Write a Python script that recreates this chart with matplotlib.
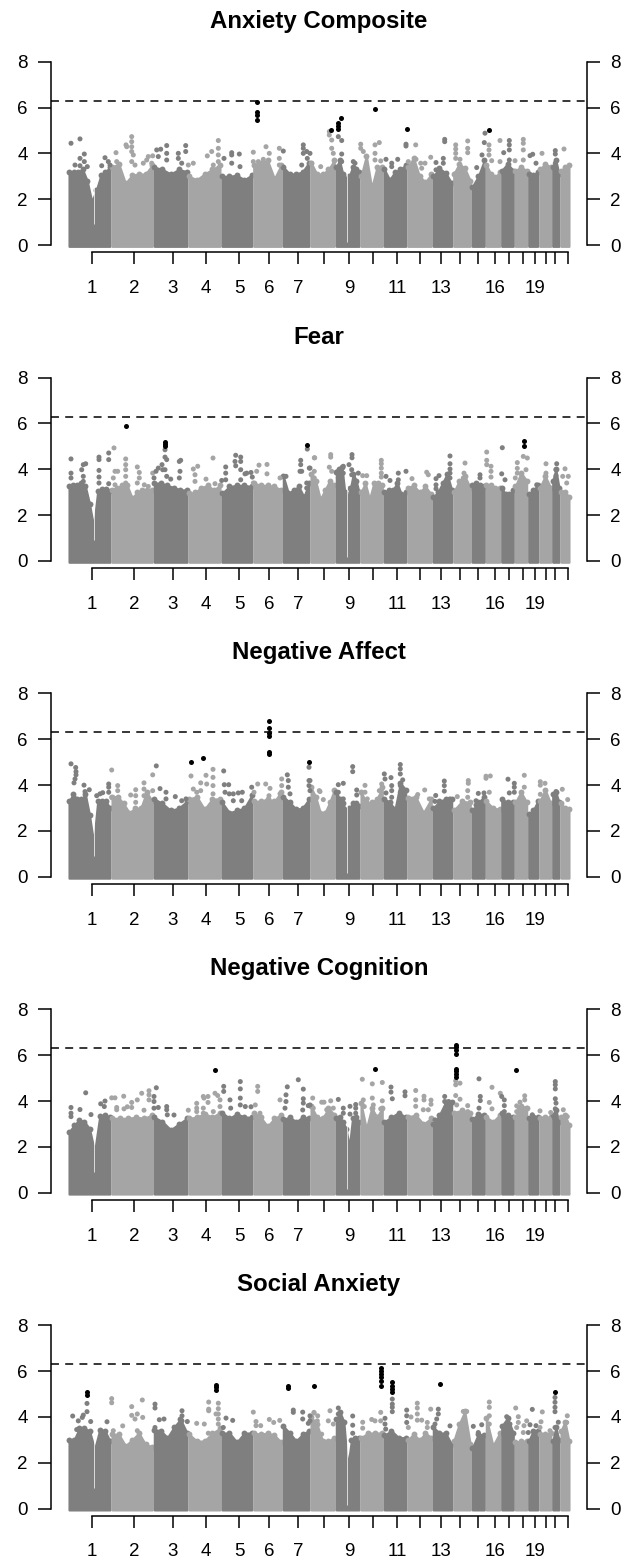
import matplotlib
matplotlib.use("Agg")
import matplotlib.pyplot as plt
import numpy as np

plt.rcParams['font.family'] = ['Liberation Sans', 'DejaVu Sans']

DARK = '#7f7f7f'
LIGHT = '#a5a5a5'

# genome position of chromosome edges and axis ticks
chrom_edges = [68, 111, 153.3, 188, 221, 252.7, 282.3, 310, 335.3, 360, 383.3, 406.7, 432.3, 452.7, 471.3, 485.3,
               500.7, 514.3, 527.7, 538.7, 551.7, 560, 570]
tick_pos = [92, 134, 172.6, 206, 239, 269, 298, 324, 349, 373, 397, 420, 441, 460, 478, 495, 509, 523, 535, 546, 555, 568]
tick_text = ['1', '2', '3', '4', '5', '6', '7', '', '9', '', '11', '', '13', '', '', '16', '', '', '19', '', '', '']
y_ticks = [0, 2, 4, 6, 8]
threshold = 6.3
gap_pos = [93.6, 347]
gap_low = [0.9, 0.15]

# Anxiety Composite
anx_tops = [[3.2, 3.2, 3.2, 3.3, 2.8, 1.9, 2.4, 3.05, 3.2, 3.4], [3.4, 3.55, 2.7, 3.05, 3.1, 3.1, 3.5],
            [3.4, 3.3, 3.1, 3.3, 3.2], [3.0, 2.85, 3.1, 3.3, 3.5], [3.0, 3.0, 3.05, 2.85, 3.05],
            [3.5, 3.6, 3.7, 2.9, 3.5], [3.4, 3.1, 3.1, 3.2, 3.6], [3.6, 3.1, 3.1, 3.3, 3.7],
            [3.4, 3.7, 3.1, 2.9, 3.0, 3.4, 3.3, 3.2], [3.0, 3.9, 2.5, 3.4, 3.4], [3.3, 2.85, 3.2, 3.3, 3.5],
            [3.4, 3.8, 3.0, 2.75, 3.1], [3.0, 3.35, 3.15, 2.7], [3.1, 3.55, 3.35, 2.8], [2.55, 3.0, 3.7],
            [3.5, 3.1, 2.95, 3.2], [3.25, 3.55, 3.25], [3.25, 3.4, 3.25], [3.1, 3.05, 3.2], [3.3, 3.55, 3.4],
            [3.4, 3.7, 3.1], [3.25, 3.4, 3.5]]
anx_x = [71, 80, 75, 80, 80, 84.3, 84.3, 87.3, 105, 101.7, 108.3, 110, 116, 116.7, 126, 126.7, 131.7, 131.7, 131.7, 131.7,
         133.3, 131.7, 135, 143.3, 148.3, 152.7, 146.7, 151.7, 156.7, 160.7, 158.3, 166.7, 166.7, 166.7, 178.3, 185.7,
         185.7, 178.3, 181.7, 193.3, 188.3, 207.3, 211.7, 218.3, 218.3, 218.3, 218.3, 213.3, 224, 231.7, 231.7, 239.3,
         231.7, 240, 253.3, 266, 269.3, 263.3, 258.3, 253.3, 279.3, 283.3, 279.3, 279.3, 303.3, 303.3, 303.3, 306.7,
         307.3, 301.7, 311.7, 310, 320.7, 329.3, 329.3, 331.7, 331.7, 333.3, 338.3, 341.7, 341.7, 341.7, 353.3, 355,
         360.7, 360.7, 363.3, 375, 379.3, 375, 375, 380.7, 386, 391.7, 391.7, 397.7, 406, 406, 415.7, 408.3, 416, 420.7,
         425, 421.7, 430.7, 436, 436, 444.7, 444.7, 443.3, 443.3, 455.7, 455.7, 455.7, 455.7, 460, 467.7, 467.7, 467.7,
         455, 482, 485, 484.3, 476.7, 489, 489, 489, 491.7, 500, 500, 503.7, 509.3, 509.3, 509.3, 509.3, 515, 523.3,
         523.3, 523.3, 523.3, 530, 532.7, 536, 542, 555.3, 555.3, 555.3, 564]
anx_y = [4.44, 4.63, 3.49, 3.78, 3.46, 3.97, 3.64, 3.42, 3.81, 3.46, 3.64, 3.49, 4.03, 3.64, 4.37, 4.29, 4.73, 4.51, 4.29,
         4.08, 3.93, 3.64, 3.49, 3.57, 3.86, 3.89, 3.71, 3.57, 4.15, 4.18, 3.86, 4.34, 4.0, 3.71, 4.0, 4.34, 4.08, 3.78,
         3.57, 3.57, 3.49, 3.89, 4.08, 4.56, 4.22, 3.93, 3.64, 3.49, 3.78, 4.03, 3.93, 3.97, 3.57, 3.42, 4.05, 4.29, 4.0,
         3.74, 3.64, 3.64, 4.22, 4.1, 3.78, 3.49, 4.37, 4.22, 4.0, 4.08, 3.78, 3.49, 3.57, 4.0, 3.42, 4.95, 4.8, 4.58,
         4.22, 4.0, 4.73, 4.56, 3.97, 3.64, 3.64, 3.57, 4.4, 4.22, 4.08, 4.37, 4.47, 4.0, 3.71, 3.67, 3.74, 3.57, 3.42,
         3.74, 4.4, 4.32, 4.37, 3.64, 3.74, 3.57, 3.57, 3.35, 3.83, 3.6, 3.28, 4.61, 4.51, 3.78, 3.57, 4.37, 4.19, 4.0,
         3.78, 3.74, 4.54, 4.22, 4.03, 3.1, 3.93, 4.88, 4.47, 3.38, 4.37, 4.15, 3.93, 3.68, 4.56, 3.64, 4.03, 4.56, 4.37,
         4.15, 3.71, 3.68, 4.61, 4.44, 4.15, 3.71, 3.9, 3.96, 3.57, 4.0, 4.12, 3.97, 3.57, 4.19]
anx_hit_x = [257.3, 257.3, 257.3, 257.3, 331.3, 338.3, 338.3, 338.3, 341.3, 375, 407.3, 489.3]
anx_hit_y = [6.26, 5.82, 5.68, 5.46, 5.02, 5.34, 5.2, 5.07, 5.53, 5.92, 5.07, 5.02]

# Fear
fear_tops = [[3.25, 3.3, 3.3, 3.4, 3.25, 2.5, 1.5, 3.05, 3.15, 3.15, 3.05], [3.1, 3.2, 3.3, 3.3, 2.75, 3.0, 3.1, 3.1, 3.1],
             [3.4, 3.4, 3.3, 3.2, 3.1, 3.1], [2.95, 3.0, 3.2, 3.3, 3.1, 3.3], [2.95, 3.25, 3.3, 3.3, 3.25],
             [3.4, 3.3, 3.3, 3.25, 3.1], [3.7, 2.95, 3.1, 3.25, 2.8, 3.4], [3.8, 3.5, 2.7, 3.1, 3.5, 3.3],
             [3.9, 4.0, 4.1, 3.0, 2.8, 3.2, 3.8, 3.5, 3.0], [3.0, 3.4, 2.7, 3.4, 3.4, 3.3], [3.0, 3.1, 3.1, 3.4, 2.9, 3.0],
             [3.2, 3.3, 3.0, 3.25, 2.9], [2.8, 3.0, 3.4, 3.8, 3.1], [3.0, 3.5, 3.7, 3.2], [3.3, 3.4, 3.3, 3.25],
             [3.3, 3.3, 3.2, 3.2], [3.2, 2.9, 2.9, 3.1], [3.25, 3.85, 3.5], [2.9, 3.1, 3.3], [3.2, 3.7, 3.2],
             [3.5, 4.0, 3.2], [3.0, 3.0, 2.8]]
fear_x = [71, 71, 71, 83.3, 85.7, 81.7, 83.3, 83.3, 99, 99, 99, 99, 99, 108.7, 108.7, 108.7, 114, 115, 117.7, 113.3, 115,
          125.7, 125.7, 125.7, 125.7, 125.7, 137.3, 139.3, 139.3, 137.3, 144.3, 148.3, 152.7, 156, 158.3, 162, 154, 165,
          165, 166.7, 165, 166.7, 162.7, 180.7, 179.3, 180, 179.3, 170.7, 193.3, 197.7, 195, 195, 206, 213, 215, 221.7,
          225.7, 225.7, 225.7, 235.7, 240.7, 240.7, 235, 235.7, 240.7, 246.7, 251, 245, 240.7, 252.3, 256.7, 259, 267, 267,
          253.3, 280, 286, 300.7, 300.7, 300, 301.7, 307.3, 309.3, 306.7, 306.7, 314.3, 314.3, 314.3, 314.7, 310, 330.7,
          330.7, 329.3, 331.7, 338.3, 338.3, 343.3, 343.3, 352, 352, 349, 351.7, 351.7, 358.3, 362.7, 366.7, 355, 381.3,
          381.3, 381.3, 381.3, 381.3, 386, 390, 398.3, 406, 398.3, 412, 426.7, 428.3, 436, 439, 436, 436, 450, 450, 450,
          450, 450, 465, 464, 463.3, 486.7, 486.7, 486.7, 480, 480, 491, 491, 491, 502.3, 501.7, 505, 517.3, 517.3, 517.3,
          515.3, 523.3, 527.3, 526, 546, 546, 556.7, 556, 556, 565, 562.7, 568.3, 566.7, 536.7]
fear_y = [4.45, 3.83, 3.62, 4.2, 4.24, 3.98, 3.69, 3.47, 4.53, 4.42, 3.95, 3.66, 3.4, 4.71, 4.42, 3.37, 4.93, 3.91, 3.91,
          3.62, 3.32, 4.45, 4.2, 3.98, 3.69, 3.4, 4.1, 3.86, 3.62, 3.4, 3.32, 3.25, 3.83, 3.91, 4.05, 4.2, 3.62, 4.85, 4.53,
          4.42, 3.98, 3.69, 3.98, 4.39, 4.34, 3.91, 3.62, 3.57, 4.01, 4.13, 3.76, 3.47, 3.57, 4.49, 3.37, 3.51, 4.1, 3.83,
          3.54, 4.61, 4.53, 4.34, 4.34, 4.15, 3.98, 3.83, 3.86, 3.8, 3.54, 3.66, 3.91, 4.18, 4.21, 3.8, 3.4, 3.62, 3.69,
          4.39, 4.2, 3.91, 3.91, 4.88, 4.05, 3.4, 3.18, 4.5, 3.91, 3.62, 4.5, 4.05, 4.64, 4.53, 4.09, 3.91, 3.91, 3.62, 4.13,
          3.83, 4.64, 4.5, 4.2, 3.98, 3.76, 3.83, 3.72, 3.72, 3.4, 4.39, 4.24, 4.05, 3.83, 3.66, 3.69, 3.51, 3.83, 3.91,
          3.54, 3.59, 3.87, 3.76, 3.59, 3.72, 3.32, 3.15, 4.58, 4.24, 4.01, 3.83, 3.62, 4.27, 3.83, 3.62, 4.75, 4.39, 4.2,
          3.76, 3.62, 4.13, 3.91, 3.66, 4.94, 3.8, 3.54, 4.29, 4.04, 3.83, 3.62, 4.56, 4.49, 3.98, 4.24, 3.83, 4.24, 3.98,
          3.72, 4.02, 3.69, 3.69, 3.4, 3.32]
fear_hit_x = [125.7, 165, 165, 165, 307.3, 523.7, 523.7]
fear_hit_y = [5.87, 5.18, 5.1, 5.01, 5.04, 5.25, 5.03]

# Negative Affect
aff_tops = [[3.3, 3.6, 3.4, 3.4, 3.6, 2.7, 1.5, 3.3, 3.3, 3.3, 3.0], [3.5, 3.5, 3.2, 2.8, 3.0, 3.0, 3.7, 3.3],
            [3.4, 3.2, 2.9, 3.0, 3.3], [3.4, 3.5, 2.95, 3.4, 3.4], [3.25, 2.8, 2.9, 3.0, 3.55], [3.3, 3.3, 3.4, 3.3, 3.7],
            [3.5, 3.25, 2.95, 3.0, 3.4], [3.9, 3.5, 2.8, 2.8, 3.25, 3.8], [3.7, 3.4, 3.2, 2.9, 3.0, 3.2, 3.2, 3.1],
            [3.7, 3.25, 3.25, 3.4, 3.9], [3.4, 3.25, 2.95, 4.1, 3.8], [3.45, 3.5, 2.8, 3.4], [3.0, 3.3, 3.4, 3.4],
            [2.9, 3.3, 3.25], [2.9, 3.25, 3.5], [3.3, 3.0, 2.95], [3.4, 3.25, 3.25], [3.25, 3.7, 3.25], [2.75, 2.9, 3.3],
            [3.3, 3.8, 3.2], [3.6, 3.7, 3.25], [3.2, 3.0, 2.95]]
aff_x = [71, 75.7, 76, 76, 75, 74, 84, 89.3, 85, 96.7, 100, 102.7, 108.7, 108.7, 108.7, 111.7, 101.7, 111.7, 117.7, 117.7,
         130.7, 135.7, 135.7, 135.7, 144, 144, 144, 152.7, 156.3, 152.7, 160, 166, 166, 175.3, 181.7, 186, 191, 193.3, 196.7,
         206, 206.7, 200.7, 200.7, 213, 213, 213, 213, 223.7, 224.3, 228.7, 225, 229.3, 233.3, 238.3, 242.3, 233.3, 241.7,
         251.7, 254, 257.7, 265.7, 270, 269, 269, 281.7, 281.7, 287.3, 288.3, 288.3, 290, 280, 309, 309, 309, 310, 319.3,
         310, 320, 323.3, 338.3, 343.3, 338.3, 343.3, 352.7, 352.7, 356.7, 356.7, 350.7, 365, 365, 367.3, 379.3, 381.7,
         384.3, 385, 391, 391.7, 391.7, 386, 391.7, 400.3, 400.3, 400.3, 402.7, 400.3, 400.3, 417.7, 424.7, 429.3, 435.7,
         435, 444.3, 444.3, 444.3, 450, 457.3, 468.3, 468.3, 467.7, 467.7, 476, 476, 478.3, 484, 486, 486, 490.3, 489.3,
         508, 509.3, 514.3, 514.3, 514.3, 524.3, 524.3, 520, 540.3, 540.3, 540.3, 545, 556, 562.3, 567.7]
aff_y = [4.93, 4.77, 4.59, 4.45, 4.27, 4.1, 4.0, 3.8, 3.72, 3.54, 3.62, 3.67, 4.05, 3.91, 3.69, 4.66, 3.25, 3.47, 3.98, 3.76,
         3.57, 3.8, 3.54, 3.25, 4.1, 3.83, 3.54, 4.45, 4.84, 3.76, 3.85, 3.69, 3.4, 3.5, 3.32, 3.4, 4.4, 3.83, 3.69, 4.43,
         4.05, 4.1, 3.76, 4.69, 4.34, 3.98, 3.62, 4.62, 4.02, 4.02, 3.69, 3.62, 3.62, 3.66, 3.69, 3.32, 3.32, 3.91, 3.69,
         4.05, 4.05, 3.86, 3.54, 3.25, 4.27, 3.98, 4.45, 4.2, 3.91, 3.62, 3.62, 4.78, 4.2, 3.98, 3.76, 3.76, 4.2, 3.72, 3.37,
         4.02, 4.08, 3.69, 3.4, 4.81, 4.59, 3.79, 3.57, 2.96, 3.99, 3.69, 3.4, 3.76, 4.05, 4.49, 4.27, 4.33, 3.98, 3.76, 3.66,
         3.47, 4.9, 4.71, 4.49, 4.23, 3.98, 3.69, 3.59, 3.79, 3.4, 3.55, 3.29, 4.18, 3.98, 3.74, 3.4, 3.5, 4.2, 4.08, 3.76,
         3.47, 3.32, 3.13, 3.64, 3.66, 4.39, 4.3, 4.4, 3.69, 4.26, 3.66, 4.08, 3.91, 3.69, 4.43, 3.91, 3.4, 4.15, 4.0, 3.6,
         4.08, 3.72, 3.82, 3.37]
aff_hit_x = [191, 203.3, 269, 269, 269, 269, 269, 269, 309]
aff_hit_y = [5.01, 5.2, 6.78, 6.49, 6.28, 6.14, 5.45, 5.38, 5.03]

# Negative Cognition
cog_tops = [[2.65, 2.95, 3.18, 3.1, 2.8, 1.8, 3.35, 3.4, 3.3], [3.25, 3.25, 3.25, 3.3, 3.25, 3.4], [3.3, 3.1, 2.75, 3.0, 3.25],
            [3.25, 3.3, 3.45, 3.3, 3.5], [3.5, 3.25, 3.45, 3.3, 3.3], [3.5, 3.3, 2.9, 3.25, 3.4], [3.2, 3.3, 3.1, 3.3, 3.25],
            [3.8, 3.3, 3.25, 3.7, 3.4], [3.25, 3.3, 3.1, 2.8, 2.0, 3.25, 3.3, 3.1], [3.9, 2.8, 3.7, 3.3, 3.7],
            [3.1, 3.3, 3.5, 3.3], [3.3, 3.4, 3.0, 3.25], [3.0, 3.4, 3.95, 3.95], [3.5, 3.6, 3.5], [3.2, 3.45, 3.4],
            [3.3, 3.1, 3.4], [3.5, 3.4, 3.3], [3.3, 3.8, 3.7], [3.25, 3.3, 3.3], [3.25, 3.3, 3.3], [3.4, 3.6, 3.1],
            [3.3, 3.4, 2.95]]
cog_x = [71, 71, 71, 80, 85.7, 91, 100.7, 105, 104.3, 111.7, 115, 123.7, 116.7, 116.7, 124, 127.3, 131.7, 131.7, 137.3, 141.7,
         144, 149, 149, 149, 154, 154, 154, 156.3, 158.3, 166.7, 167.3, 174, 166.7, 188.3, 196.7, 196.7, 196.7, 203.3, 204,
         203.3, 203.3, 208, 208, 215, 217.7, 213.3, 220, 220, 223.7, 223.7, 230, 230.7, 240.3, 240.3, 240.3, 240.3, 245.3,
         251, 257.7, 257.7, 255.3, 260, 287.3, 286, 286, 280, 285, 298.3, 303.3, 303.3, 303.3, 308.3, 302.7, 312.7, 313.3,
         310, 321.7, 324, 326.7, 330.7, 333.3, 338.3, 343.3, 343.3, 350, 355.7, 355.7, 355.7, 350, 362.3, 372.3, 382.3,
         372.3, 363.3, 364.3, 382.3, 373.3, 380.7, 391, 391, 392.3, 405, 405, 415.7, 415.7, 415.7, 424, 424, 431, 431, 423.3,
         428.3, 435, 444.7, 444.7, 448.7, 455.7, 455.7, 455.7, 460, 460, 456.7, 467.7, 467.7, 479, 480.3, 480.3, 479, 492,
         489.3, 492, 500.3, 501.7, 504.3, 504.3, 504.3, 520, 516.7, 519.3, 516.7, 524.7, 524.7, 526.7, 533.3, 540, 532.3,
         550.7, 555.3, 555.3, 555.3, 555.3, 556, 555.3, 563.3, 567.3]
cog_y = [3.72, 3.47, 3.32, 3.63, 4.36, 3.41, 3.88, 4.0, 3.76, 4.14, 4.14, 4.21, 3.72, 3.62, 3.66, 3.75, 3.94, 3.72, 4.05, 4.34,
         3.6, 4.45, 4.27, 4.05, 4.2, 3.98, 3.69, 4.58, 3.72, 3.76, 3.4, 3.39, 3.62, 3.6, 3.9, 3.69, 3.54, 4.2, 4.13, 3.69, 3.47,
         3.94, 4.2, 4.34, 4.24, 3.54, 4.05, 3.76, 4.64, 4.42, 4.05, 3.69, 4.85, 4.53, 4.13, 3.83, 3.76, 3.75, 4.64, 4.42, 3.83,
         3.47, 4.62, 4.27, 3.98, 4.05, 3.69, 4.93, 4.52, 4.1, 3.91, 3.8, 3.61, 4.13, 3.69, 3.83, 3.95, 3.95, 3.62, 4.01, 3.69,
         4.07, 3.69, 3.47, 3.77, 3.85, 3.69, 3.47, 3.43, 4.95, 4.75, 4.81, 4.13, 4.05, 3.76, 4.01, 3.83, 3.66, 4.61, 4.39, 4.1,
         4.4, 4.23, 4.46, 4.05, 3.77, 4.21, 4.05, 4.04, 3.86, 3.62, 3.62, 3.18, 4.2, 3.98, 3.98, 4.88, 4.71, 4.24, 4.08, 4.78,
         3.83, 3.8, 3.54, 4.97, 4.2, 4.02, 3.69, 4.6, 3.94, 3.66, 4.34, 4.2, 4.05, 3.8, 3.54, 3.95, 3.79, 3.69, 3.54, 4.23, 4.05,
         3.69, 3.32, 3.57, 3.4, 3.5, 4.85, 4.71, 4.53, 4.1, 3.91, 3.66, 3.62, 3.32]
cog_hit_x = [214.7, 455.7, 455.7, 455.7, 455.7, 375, 455.7, 455.7, 455.7, 455.7, 516.3]
cog_hit_y = [5.35, 6.46, 6.34, 6.24, 6.06, 5.41, 5.39, 5.29, 5.19, 5.07, 5.35]

# Social Anxiety
soc_tops = [[3.0, 3.0, 3.5, 3.5, 3.4, 2.6, 3.45, 3.4, 2.95], [3.25, 3.25, 2.75, 3.0, 3.3, 2.8, 2.7], [3.45, 3.4, 3.1, 3.55, 3.9, 3.3],
            [3.25, 2.95, 2.95, 3.3, 3.5], [3.3, 3.3, 2.9, 3.3, 3.3], [3.3, 3.25, 3.3, 3.2, 2.9], [3.6, 3.3, 2.95, 3.25, 3.4],
            [4.0, 3.7, 2.95, 2.95, 3.1], [3.9, 4.2, 3.8, 1.8, 3.0, 3.1, 3.1], [3.1, 3.3, 3.3, 3.3], [3.2, 3.4, 3.1, 3.1],
            [3.0, 3.25, 3.0, 3.3, 3.1], [3.55, 3.3, 3.3, 2.8], [2.95, 3.7, 4.25, 2.8], [2.65, 3.25, 3.2], [3.95, 2.75, 3.3],
            [3.6, 3.95, 3.3], [2.9, 2.95, 2.95], [2.95, 3.4, 3.4], [3.25, 3.25, 3.3], [2.95, 3.55, 3.0], [3.4, 3.8, 2.95]]
soc_x = [72.7, 87, 87, 83.3, 82.3, 78.3, 90.7, 80, 76.7, 107, 111.7, 111.7, 113.3, 122.7, 131.7, 131.7, 137.3, 135, 142.7, 137.3,
         142.3, 155, 155, 159.3, 164, 155, 182, 182, 182, 187.3, 196.7, 204.3, 208.7, 208.7, 208.7, 218.3, 218.3, 218.3, 216,
         218.3, 218.3, 226, 232.7, 223.3, 208.3, 253.3, 256, 256, 260.7, 269.3, 273.7, 279.7, 293.3, 293.3, 302.7, 302.7, 308.3,
         314, 310, 317.7, 314, 310, 317.3, 321.7, 330, 328.3, 333.3, 338.3, 342.3, 338.3, 352.7, 352.7, 352.7, 362.7, 362.7,
         371.7, 375, 380.7, 380.7, 385, 385, 385.7, 392.3, 392.3, 392.3, 392.3, 406.7, 406.7, 411, 406.7, 408.3, 417.3, 417.3,
         417.3, 417.3, 421.7, 427.3, 427.3, 430.7, 438.3, 438.3, 436.7, 435, 450, 463.3, 466.7, 473.3, 481.7, 478.3, 489.3, 489.3,
         489.3, 489.3, 506.7, 510, 515.7, 518.3, 518.3, 516.7, 524, 526.7, 530, 532.3, 536, 528.3, 523.3, 542.3, 541, 540, 550,
         558.3, 567.3, 566.7, 555, 555, 555, 555, 555]
soc_y = [4.04, 4.59, 4.23, 4.08, 3.98, 3.83, 3.8, 3.47, 3.45, 3.79, 4.8, 4.62, 3.4, 3.61, 4.45, 4.07, 4.13, 3.91, 3.98, 3.4, 4.74,
         4.56, 4.39, 3.88, 3.91, 3.54, 4.27, 4.05, 3.83, 3.8, 3.72, 3.69, 4.65, 4.34, 4.27, 4.6, 4.36, 4.13, 4.13, 3.91, 3.69, 3.95,
         3.85, 3.54, 3.29, 4.21, 3.8, 3.62, 3.62, 3.89, 3.76, 3.85, 4.3, 4.2, 4.21, 3.91, 3.72, 4.2, 4.05, 4.05, 4.17, 3.83, 3.83,
         3.25, 4.27, 3.83, 3.69, 4.39, 3.76, 4.13, 4.04, 3.64, 3.29, 3.77, 3.51, 3.89, 3.83, 4.2, 3.83, 3.94, 3.69, 3.47, 4.78, 4.56,
         4.42, 4.23, 4.3, 4.05, 4.0, 3.76, 3.54, 4.6, 4.39, 4.13, 3.86, 3.86, 3.76, 3.54, 4.34, 4.34, 4.13, 3.91, 3.69, 3.61, 4.24,
         4.24, 3.59, 3.66, 3.32, 4.65, 4.42, 4.05, 3.69, 4.01, 3.69, 4.39, 4.01, 3.76, 3.54, 3.62, 3.83, 3.66, 4.33, 3.62, 3.32, 3.32,
         4.22, 3.79, 3.54, 3.4, 3.77, 4.05, 3.76, 3.54, 4.85, 4.64, 4.42, 4.23]
soc_hit_x = [87, 87, 216, 216, 216, 288, 288, 314, 380.7, 380.7, 380.7, 380.7, 380.7, 380.7, 392.3, 392.3, 392.3, 392.3, 440.3, 555]
soc_hit_y = [5.1, 4.97, 5.39, 5.29, 5.19, 5.36, 5.25, 5.36, 6.14, 6.02, 5.87, 5.73, 5.58, 5.36, 5.51, 5.36, 5.22, 5.07, 5.44, 5.11]

panels = [('Anxiety Composite', anx_tops, anx_x, anx_y, anx_hit_x, anx_hit_y),
          ('Fear', fear_tops, fear_x, fear_y, fear_hit_x, fear_hit_y),
          ('Negative Affect', aff_tops, aff_x, aff_y, aff_hit_x, aff_hit_y),
          ('Negative Cognition', cog_tops, cog_x, cog_y, cog_hit_x, cog_hit_y),
          ('Social Anxiety', soc_tops, soc_x, soc_y, soc_hit_x, soc_hit_y)]

W, H = 626, 1558
fig = plt.figure(figsize=(W / 100, H / 100), dpi=100)

for i, (name, tops, px, py, hx, hy) in enumerate(panels):
    zero_y = 245 + i * 315.9
    ax = fig.add_axes([51 / W, 1 - zero_y / H, 536 / W, 183.3 / H])
    ax.set_xlim(51, 587)
    ax.set_ylim(0, 8)

    edges = np.array(chrom_edges)
    for c, heights in enumerate(tops):
        col = DARK if c % 2 == 0 else LIGHT
        xs = np.linspace(edges[c] + 1, edges[c + 1] - 1, len(heights))
        ax.fill_between(xs, -0.06, heights, color=col, lw=1.5, clip_on=False, zorder=2)
        ax.scatter(xs, heights, s=18, color=col, linewidths=0, clip_on=False, zorder=2)

    ax.vlines(gap_pos, gap_low, 3.6, color='white', lw=0.5, zorder=3)

    px = np.array(px)
    py = np.array(py)
    chrom = np.clip(np.searchsorted(edges, px) - 1, 0, 21)
    ax.scatter(px, py, s=13, c=[DARK if c % 2 == 0 else LIGHT for c in chrom], linewidths=0, zorder=4)
    ax.scatter(hx, hy, s=13, color='black', linewidths=0, zorder=5)
    ax.axhline(threshold, color='black', lw=1.1, linestyle=(0, (5.2, 4.1)), zorder=6)

    ax.patch.set_visible(False)
    for side in ['top']:
        ax.spines[side].set_visible(False)
    for side in ['left', 'right']:
        ax.spines[side].set_bounds(0, 8)
        ax.spines[side].set_linewidth(1.1)
    ax.spines['bottom'].set_position(('outward', 5.2))
    ax.spines['bottom'].set_bounds(tick_pos[0], tick_pos[-1])
    ax.spines['bottom'].set_linewidth(1.1)

    ax.set_yticks(y_ticks)
    ax.tick_params(axis='y', left=True, right=True, labelleft=True, labelright=True, direction='out',
                   length=9.4, width=1.1, pad=7.5, labelsize=13.5)
    ax.set_xticks(tick_pos)
    ax.set_xticklabels(tick_text)
    ax.tick_params(axis='x', direction='out', length=8.4, width=1.1, pad=11.5, labelsize=13.5)
    ax.set_title(name, fontweight='bold', fontsize=17.3, pad=24.5)

fig.savefig('out.png', dpi=100)
